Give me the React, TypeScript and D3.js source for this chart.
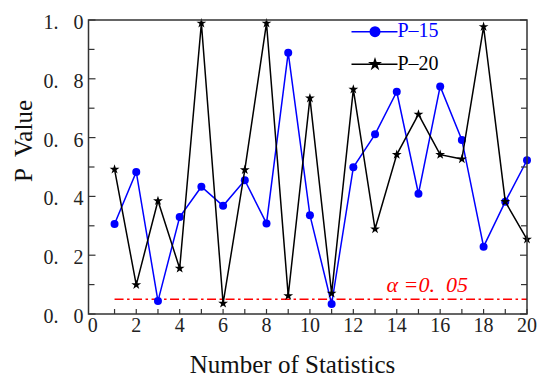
import React from 'react';
import * as d3 from 'd3';

// values
const statNumbers = [1, 2, 3, 4, 5, 6, 7, 8, 9, 10, 11, 12, 13, 14, 15, 16, 17, 18, 19, 20];
const p15Values = [0.306, 0.483, 0.044, 0.33, 0.433, 0.368, 0.455, 0.308, 0.889, 0.336, 0.034, 0.499, 0.611, 0.756, 0.409, 0.774, 0.592, 0.229, 0.382, 0.523];
const p20Values = [0.492, 0.099, 0.385, 0.155, 0.989, 0.036, 0.49, 0.989, 0.062, 0.734, 0.07, 0.764, 0.289, 0.542, 0.679, 0.542, 0.527, 0.977, 0.382, 0.254];
const xTickValues = [0, 2, 4, 6, 8, 10, 12, 14, 16, 18, 20];
const yTickValues = [0, 0.2, 0.4, 0.6, 0.8, 1.0];
const yMinorTicks = [0.1, 0.3, 0.5, 0.7, 0.9];
const alphaLevel = 0.05;

const W = 550;
const H = 387;
const margin = { top: 20, right: 23, bottom: 73, left: 88.5 };
const SERIF = "'Liberation Serif'";
const axisColor = '#333';

const App: React.FC = () => {
  const iw = W - margin.left - margin.right;
  const ih = H - margin.top - margin.bottom;

  const xScale = d3.scaleLinear().domain([-0.2, 20]).range([0, iw]);
  const yScale = d3.scaleLinear().domain([0, 1]).range([ih, 0]);

  const line = d3
    .line<number>()
    .x((_, i) => xScale(statNumbers[i]))
    .y((d) => yScale(d));

  const star = d3.symbol().type(d3.symbolStar).size(30)() as string;
  const bigStar = d3.symbol().type(d3.symbolStar).size(60)() as string;

  const legendItems = [
    { name: 'P\u201315', color: '#0000ff', y: 11.7, kind: 'circle' },
    { name: 'P\u201320', color: '#000', y: 44.3, kind: 'star' },
  ];

  return (
    <div style={{ position: 'absolute', left: 0, top: 0, width: W, height: H, background: '#fff' }}>
      <svg width={W} height={H} style={{ fontFamily: SERIF }}>
        <g transform={`translate(${margin.left}, ${margin.top})`}>
          {/* alpha threshold */}
          <line
            x1={xScale(1)}
            x2={xScale(20)}
            y1={yScale(alphaLevel)}
            y2={yScale(alphaLevel)}
            stroke="#ff0000"
            strokeWidth={1.5}
            strokeDasharray="9,3.5,2.5,3.5"
          />
          <text x={298} y={271.5} fill="#ff0000" fontSize={22} style={{ fontFamily: SERIF, fontStyle: 'italic', whiteSpace: 'pre' }}>
            {`α =${alphaLevel.toFixed(2).replace('.', '.  ')}`}
          </text>

          {/* P-15 */}
          <path d={line(p15Values) || ''} fill="none" stroke="#0000ff" strokeWidth={1.5} />
          {p15Values.map((v, i) => (
            <circle key={`c${i}`} cx={xScale(statNumbers[i])} cy={yScale(v)} r={4} fill="#0000ff" />
          ))}

          {/* P-20 */}
          <path d={line(p20Values) || ''} fill="none" stroke="#000" strokeWidth={1.5} />
          {p20Values.map((v, i) => (
            <path key={`s${i}`} d={star} transform={`translate(${xScale(statNumbers[i])}, ${yScale(v)})`} fill="#000" />
          ))}

          {/* frame */}
          <rect width={iw} height={ih} fill="none" stroke={axisColor} strokeWidth={1.5} />

          {/* y ticks, inward on both sides */}
          {yTickValues.map((v) => (
            <g key={`yt${v}`}>
              <line x1={0} x2={7} y1={yScale(v)} y2={yScale(v)} stroke={axisColor} strokeWidth={1.2} />
              <line x1={iw} x2={iw - 7} y1={yScale(v)} y2={yScale(v)} stroke={axisColor} strokeWidth={1.2} />
            </g>
          ))}
          {yMinorTicks.map((v) => (
            <g key={`ym${v}`}>
              <line x1={0} x2={6} y1={yScale(v)} y2={yScale(v)} stroke={axisColor} strokeWidth={1.2} />
              <line x1={iw} x2={iw - 6} y1={yScale(v)} y2={yScale(v)} stroke={axisColor} strokeWidth={1.2} />
            </g>
          ))}

          {/* x ticks, inward */}
          {statNumbers.map((n) => (
            <line key={`xt${n}`} x1={xScale(n)} x2={xScale(n)} y1={ih} y2={ih - 5} stroke={axisColor} strokeWidth={1.2} />
          ))}

          {/* tick labels */}
          {yTickValues.map((v) => (
            <text
              key={`yl${v}`}
              x={-5}
              y={yScale(v) + 9}
              textAnchor="end"
              fontSize={20}
              fill="#222"
              style={{ fontFamily: SERIF, whiteSpace: 'pre' }}
            >
              {v.toFixed(1).replace('.', '.   ')}
            </text>
          ))}
          {xTickValues.map((v) => (
            <text key={`xl${v}`} x={xScale(v)} y={ih + 18} textAnchor="middle" fontSize={20} fill="#222" style={{ fontFamily: SERIF }}>
              {String(v)}
            </text>
          ))}

          {/* axis titles */}
          <text x={204} y={ih + 59} textAnchor="middle" fontSize={25} fill="#111" style={{ fontFamily: SERIF }}>
            Number of Statistics
          </text>
          <text
            transform={`translate(-57, 121) rotate(-90)`}
            textAnchor="middle"
            fontSize={25}
            fill="#111"
            style={{ fontFamily: SERIF, whiteSpace: 'pre' }}
          >
            {'P  Value'}
          </text>

          {/* legend */}
          <g transform={`translate(${351.5 - margin.left}, 0)`}>
            {legendItems.map((it) => (
              <g key={it.name}>
                <line x1={0} x2={46} y1={it.y} y2={it.y} stroke={it.color} strokeWidth={1.5} />
                {it.kind === 'circle' ? (
                  <circle cx={23.5} cy={it.y} r={5.5} fill={it.color} />
                ) : (
                  <path d={bigStar} transform={`translate(23.5, ${it.y})`} fill={it.color} />
                )}
                <text x={46} y={it.y + 5.5} fontSize={20} fill={it.color} style={{ fontFamily: SERIF }}>
                  {it.name}
                </text>
              </g>
            ))}
          </g>
        </g>
      </svg>
    </div>
  );
};

export default App;
